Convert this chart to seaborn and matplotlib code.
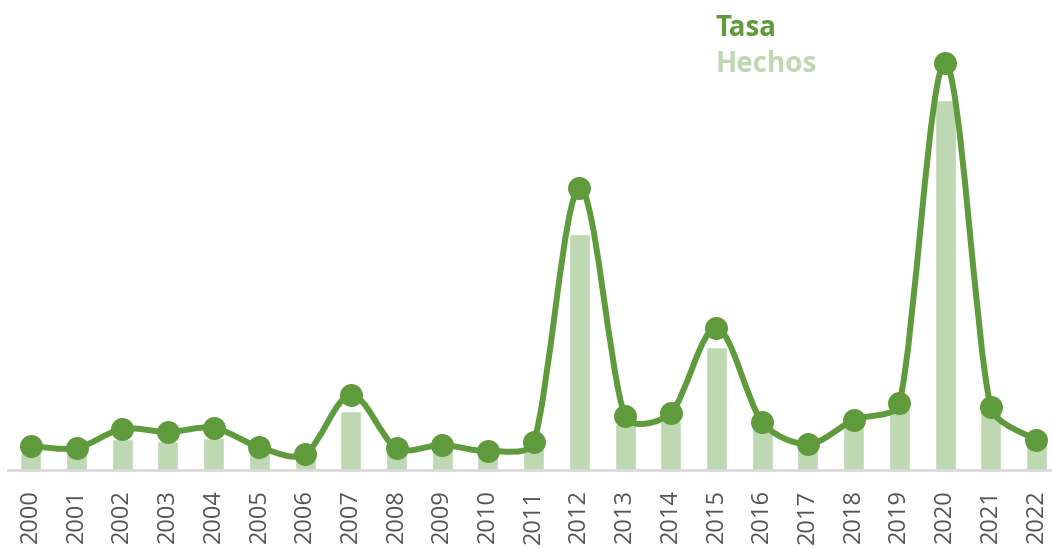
import numpy as np
import pandas as pd
import matplotlib
matplotlib.use("Agg")
import matplotlib.pyplot as plt
from matplotlib.path import Path
from matplotlib.patches import PathPatch
import seaborn as sns

# datos (escala arbitraria)
years = [str(y) for y in range(2000, 2023)]
hechos = [17, 17, 31, 29, 32, 20, 13, 59, 17, 21, 17, 21, 236,
          46, 49, 123, 43, 28, 47, 61, 370, 59, 30]
tasa = [24, 22, 41, 38, 42, 23, 16, 75, 22, 25, 19, 28, 282,
        54, 57, 142, 48, 26, 50, 67, 407, 63, 30]

LINE_COLOR = "#5f9a3c"
BAR_COLOR = "#bed8b2"
TICK_COLOR = "#555555"

sns.set_theme(style="white")
plt.rcParams['font.family'] = ['Open Sans', 'DejaVu Sans']

df = pd.DataFrame({"anio": years, "hechos": hechos, "tasa": tasa})

fig = plt.figure(figsize=(10.52, 5.48), dpi=100)
ax = fig.add_axes([8 / 1052, 78 / 548, 1044 / 1052, 470 / 548])

sns.barplot(data=df, x="anio", y="hechos", color=BAR_COLOR, width=0.46,
            saturation=1, ax=ax, zorder=1)

ax.set_xlim(-0.5, 22.34)
ax.set_ylim(0, 470)

# linea suavizada: bezier tipo catmull-rom, con el brazo de control
# limitado a una fraccion del tramo (en pixeles)
pts = ax.transData.transform(np.column_stack([np.arange(len(tasa)), tasa]))
n = len(pts)
tang = [(pts[min(i + 1, n - 1)] - pts[max(i - 1, 0)]) / 6 for i in range(n)]


def arm(v, seg, k=0.33):
    lv = np.linalg.norm(v)
    lim = k * seg
    return v if lv <= lim else v * lim / lv


verts = [tuple(pts[0])]
codes = [Path.MOVETO]
for i in range(n - 1):
    seg = np.linalg.norm(pts[i + 1] - pts[i])
    c1 = pts[i] + arm(tang[i], seg)
    c2 = pts[i + 1] - arm(tang[i + 1], seg)
    verts += [tuple(c1), tuple(c2), tuple(pts[i + 1])]
    codes += [Path.CURVE4] * 3
verts = ax.transData.inverted().transform(np.array(verts))
ax.add_patch(PathPatch(Path(verts, codes), facecolor="none",
                       edgecolor=LINE_COLOR, lw=4.3, zorder=3,
                       capstyle="round", joinstyle="round"))
ax.plot(np.arange(n), tasa, linestyle="none", marker="o", markersize=15.5,
        color=LINE_COLOR, zorder=4)

ax.set_xlabel("")
ax.set_ylabel("")
ax.set_yticks([])
for sp in ["top", "left", "right"]:
    ax.spines[sp].set_visible(False)
ax.spines["bottom"].set_color("#d9d9d9")
ax.spines["bottom"].set_linewidth(2)
ax.tick_params(axis="x", length=0, pad=14, labelsize=17,
               labelcolor=TICK_COLOR, rotation=90)

# leyenda como texto
fig.text(716 / 1052, 1 - 28 / 548, "Tasa", color=LINE_COLOR,
         fontsize=20, fontweight="bold", va="center", ha="left")
fig.text(716 / 1052, 1 - 64 / 548, "Hechos", color=BAR_COLOR,
         fontsize=20, fontweight="bold", va="center", ha="left")

fig.savefig("out.png", dpi=100)
